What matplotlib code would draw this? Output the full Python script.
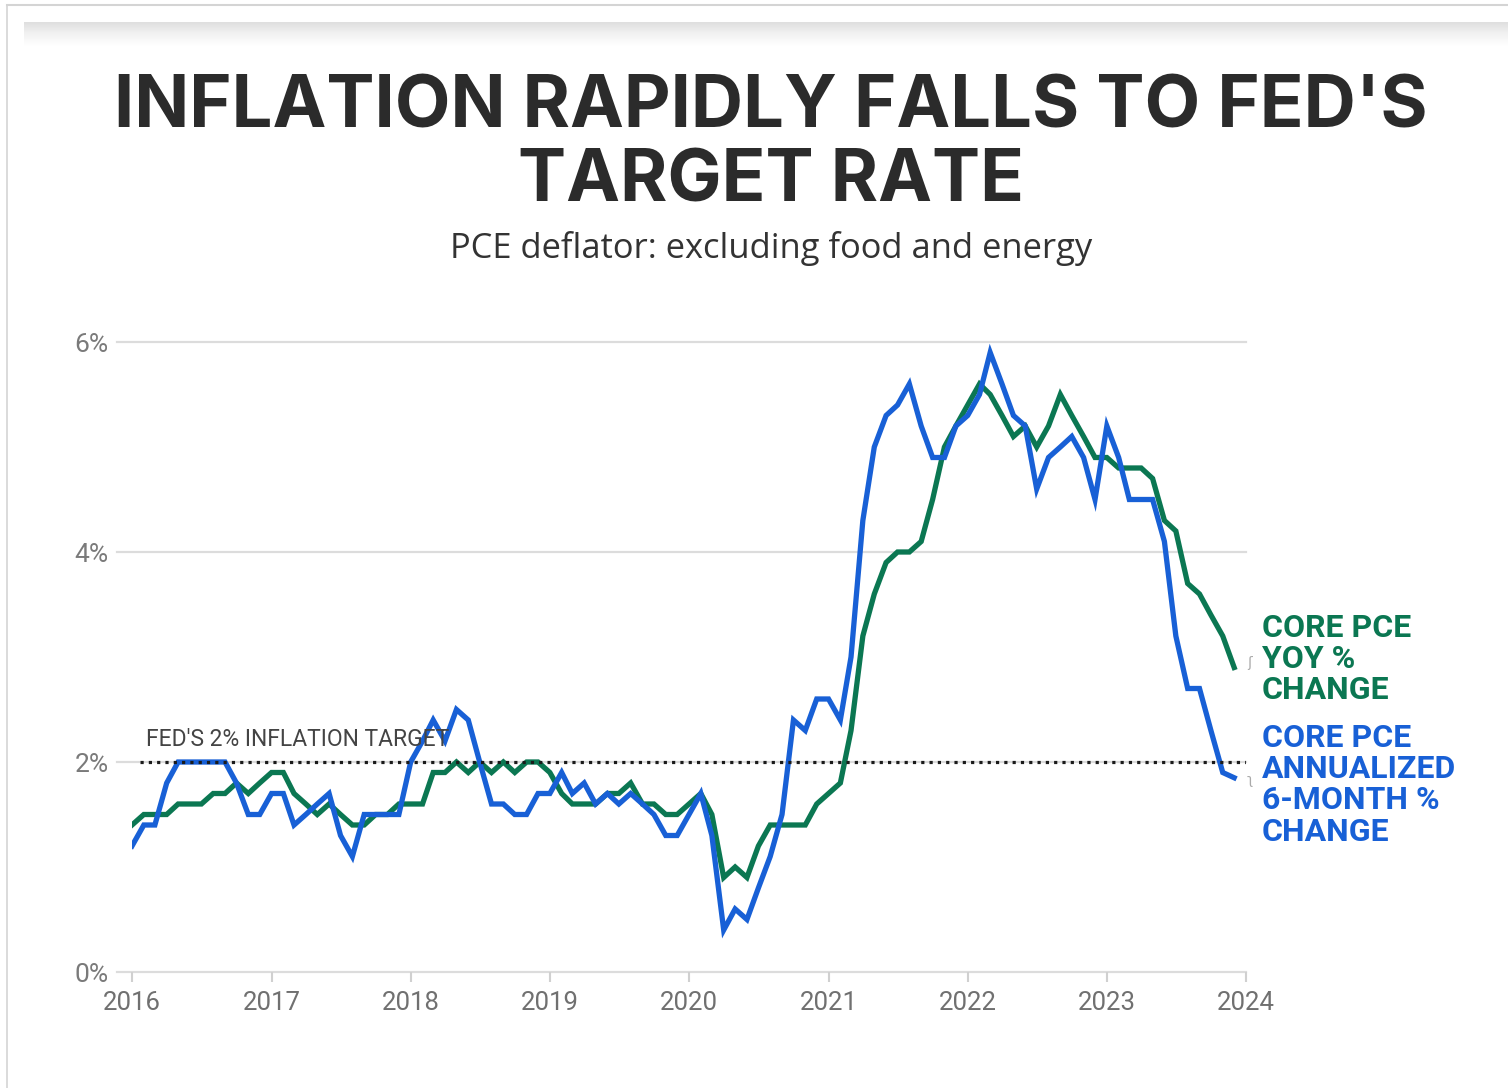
import numpy as np
import pandas as pd
import matplotlib.pyplot as plt
import matplotlib.dates as mdates

# Monthly readings, Jan 2016 - Nov 2023
months = pd.date_range("2016-01-01", periods=96, freq="MS")

core_yoy = [
    1.4, 1.5, 1.5, 1.5, 1.6, 1.6, 1.6, 1.7, 1.7, 1.8, 1.7, 1.8,   # 2016
    1.9, 1.9, 1.7, 1.6, 1.5, 1.6, 1.5, 1.4, 1.4, 1.5, 1.5, 1.6,   # 2017
    1.6, 1.6, 1.9, 1.9, 2.0, 1.9, 2.0, 1.9, 2.0, 1.9, 2.0, 2.0,   # 2018
    1.9, 1.7, 1.6, 1.6, 1.6, 1.7, 1.7, 1.8, 1.6, 1.6, 1.5, 1.5,   # 2019
    1.6, 1.7, 1.5, 0.9, 1.0, 0.9, 1.2, 1.4, 1.4, 1.4, 1.4, 1.6,   # 2020
    1.7, 1.8, 2.3, 3.2, 3.6, 3.9, 4.0, 4.0, 4.1, 4.5, 5.0, 5.2,   # 2021
    5.4, 5.6, 5.5, 5.3, 5.1, 5.2, 5.0, 5.2, 5.5, 5.3, 5.1, 4.9,   # 2022
    4.9, 4.8, 4.8, 4.8, 4.7, 4.3, 4.2, 3.7, 3.6, 3.4, 3.2, 2.9,   # 2023
]
core_6m = [
    1.2, 1.4, 1.4, 1.8, 2.0, 2.0, 2.0, 2.0, 2.0, 1.8, 1.5, 1.5,   # 2016
    1.7, 1.7, 1.4, 1.5, 1.6, 1.7, 1.3, 1.1, 1.5, 1.5, 1.5, 1.5,   # 2017
    2.0, 2.2, 2.4, 2.2, 2.5, 2.4, 2.0, 1.6, 1.6, 1.5, 1.5, 1.7,   # 2018
    1.7, 1.9, 1.7, 1.8, 1.6, 1.7, 1.6, 1.7, 1.6, 1.5, 1.3, 1.3,   # 2019
    1.5, 1.7, 1.3, 0.4, 0.6, 0.5, 0.8, 1.1, 1.5, 2.4, 2.3, 2.6,   # 2020
    2.6, 2.4, 3.0, 4.3, 5.0, 5.3, 5.4, 5.6, 5.2, 4.9, 4.9, 5.2,   # 2021
    5.3, 5.5, 5.9, 5.6, 5.3, 5.2, 4.6, 4.9, 5.0, 5.1, 4.9, 4.5,   # 2022
    5.2, 4.9, 4.5, 4.5, 4.5, 4.1, 3.2, 2.7, 2.7, 2.3, 1.9, 1.85,  # 2023
]

years = list(range(2016, 2025))
y_ticks = [0, 2, 4, 6]
fed_target = 2

green = "#0b7752"
blue = "#1860d6"

fig = plt.figure(figsize=(15.08, 10.88), dpi=100)

# page decoration (screenshot frame + shadow band)
fig.add_artist(plt.Line2D([7 / 1508, 1], [1 - 5 / 1088] * 2, color="#d4d4d4", lw=1.5))
fig.add_artist(plt.Line2D([7 / 1508] * 2, [0, 1 - 5 / 1088], color="#d4d4d4", lw=1.2))
shade = fig.add_axes([24 / 1508, 1 - 46 / 1088, 1 - 24 / 1508, 24 / 1088])
shade.imshow(np.linspace(0, 1, 50).reshape(-1, 1), cmap="Greys_r", vmin=-3.5, vmax=1,
             aspect="auto", extent=[0, 1, 0, 1])
shade.axis("off")

# title and subtitle
fig.text(0.511, 1 - 128 / 1088, "INFLATION RAPIDLY FALLS TO FED'S", ha="center", va="baseline",
         fontsize=52, fontweight="bold", family="Inter", color="#2b2b2b")
fig.text(0.511, 1 - 201 / 1088, "TARGET RATE", ha="center", va="baseline",
         fontsize=52, fontweight="bold", family="Inter", color="#2b2b2b")
fig.text(0.511, 1 - 258 / 1088, "PCE deflator: excluding food and energy", ha="center", va="baseline",
         fontsize=24.8, family="Open Sans", color="#333333")

ax = fig.add_axes([132 / 1508, 116 / 1088, 1114 / 1508, 630 / 1088])

for v in y_ticks:
    ax.plot([-0.0135, 1], [v, v], transform=ax.get_yaxis_transform(), color="#dcdcdc",
            lw=1.6, clip_on=False, zorder=1)

ax.plot(months, core_yoy, color=green, lw=3.8, zorder=3, solid_joinstyle="miter")
ax.plot(months, core_6m, color=blue, lw=3.8, zorder=4, solid_joinstyle="miter")

ax.plot([0.007, 1], [fed_target, fed_target], transform=ax.get_yaxis_transform(),
        color="#1a1a1a", lw=2.3, linestyle=(0, (1, 1.6)), zorder=5)
ax.text(mdates.date2num(pd.Timestamp("2016-02-08")), fed_target + 0.1, "FED'S 2% INFLATION TARGET",
        ha="left", va="bottom", fontsize=16.5, family="Roboto", color="#444444", zorder=6)

ax.set_xlim(pd.Timestamp("2016-01-01"), pd.Timestamp("2024-01-01"))
ax.set_ylim(0, 6)
ax.set_xticks([pd.Timestamp(f"{y}-01-01") for y in years])
ax.set_xticklabels([str(y) for y in years], family="Roboto", fontsize=18.5, color="#707070")
ax.set_yticks(y_ticks)
ax.set_yticklabels([f"{v}%" for v in y_ticks], family="Roboto", fontsize=19, color="#7a7a7a")
ax.tick_params(axis="y", length=0, pad=17)
ax.tick_params(axis="x", length=7, width=1.5, color="#d0d0d0", pad=7)
for s in ax.spines.values():
    s.set_visible(False)
ax.patch.set_alpha(0)

# end-of-line labels
fig.text(1262 / 1508, 1 - 613 / 1088, "CORE PCE\nYOY %\nCHANGE", ha="left", va="top",
         fontsize=23, fontweight="bold", family="Roboto", color=green, linespacing=1.05)
fig.text(1262 / 1508, 1 - 723 / 1088, "CORE PCE\nANNUALIZED\n6-MONTH %\nCHANGE", ha="left", va="top",
         fontsize=23, fontweight="bold", family="Roboto", color=blue, linespacing=1.05)
fig.text(1250 / 1508, 1 - 663 / 1088, "ʃ", ha="center", va="center", fontsize=10, color="#aaaaaa")
fig.text(1250 / 1508, 1 - 780 / 1088, "ʅ", ha="center", va="center", fontsize=10, color="#aaaaaa")

fig.savefig("out.png", dpi=100, facecolor="white")
